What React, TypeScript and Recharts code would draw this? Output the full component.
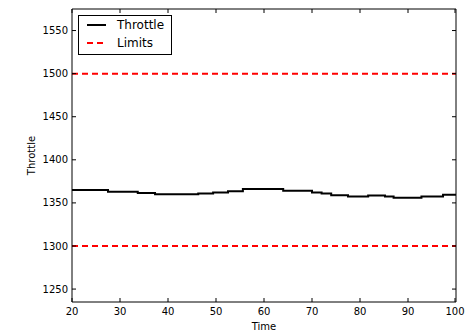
import React from 'react';
import { LineChart, Line, XAxis, YAxis, ReferenceLine } from 'recharts';

const timeValues = [20, 27.5, 33.7, 37.3, 46.3, 49.4, 52.5, 55.6, 64, 70, 72, 74, 77.5, 81.7, 85.2, 87, 92.8, 97.3, 100];
const throttleValues = [1365, 1363, 1361.5, 1360, 1361, 1362, 1363.5, 1366, 1364, 1362, 1361, 1359, 1357.5, 1358.5, 1357.5, 1356, 1357.5, 1359.5, 1359.5];
const limitValues = [1500, 1300];
const xTicks = [20, 30, 40, 50, 60, 70, 80, 90, 100];
const yTicks = [1250, 1300, 1350, 1400, 1450, 1500, 1550];
const legendLabels = ['Throttle', 'Limits'];

const data = timeValues.map((t, i) => ({ t, throttle: throttleValues[i] }));

const FONT = '"DejaVu Sans", sans-serif';

const BottomTick = (props: any) => {
  const { x, y, payload } = props;
  return (
    <g>
      <line x1={x} x2={x} y1={y} y2={y - 4} stroke="#000" strokeWidth={1} />
      <text x={x} y={y + 12.6} textAnchor="middle" fontSize={10} fontFamily={FONT} fill="#000">
        {payload.value}
      </text>
    </g>
  );
};

const TopTick = (props: any) => {
  const { x, y } = props;
  return <line x1={x} x2={x} y1={y} y2={y + 4} stroke="#000" strokeWidth={1} />;
};

const LeftTick = (props: any) => {
  const { x, y, payload } = props;
  return (
    <g>
      <line x1={x} x2={x + 4} y1={y} y2={y} stroke="#000" strokeWidth={1} />
      <text x={x - 4} y={y + 3.6} textAnchor="end" fontSize={10} fontFamily={FONT} fill="#000">
        {payload.value}
      </text>
    </g>
  );
};

const RightTick = (props: any) => {
  const { x, y } = props;
  return <line x1={x} x2={x - 4} y1={y} y2={y} stroke="#000" strokeWidth={1} />;
};

const LegendBox = () => (
  <svg width={94} height={40} style={{ position: 'absolute', left: 78, top: 15 }}>
    <rect x={0.5} y={0.5} width={93} height={39} fill="#fff" stroke="#000" strokeWidth={1} />
    <line x1={9} x2={28} y1={10} y2={10} stroke="#000" strokeWidth={2} />
    <text x={39} y={14.3} fontSize={12} fontFamily={FONT} fill="#000">{legendLabels[0]}</text>
    <line x1={9} x2={28} y1={28} y2={28} stroke="#ff0000" strokeWidth={2} strokeDasharray="6 4" />
    <text x={39} y={32.3} fontSize={12} fontFamily={FONT} fill="#000">{legendLabels[1]}</text>
  </svg>
);

export default function App() {
  return (
    <div style={{ position: 'absolute', left: 0, top: 0, width: 467, height: 332, background: '#fff' }}>
      <LineChart width={467} height={332} data={data} margin={{ top: 8, right: 10, bottom: 0, left: 10 }}>
        <XAxis
          xAxisId="bottom"
          dataKey="t"
          type="number"
          domain={[20, 100]}
          ticks={xTicks}
          allowDataOverflow
          height={30}
          tickSize={0}
          tickMargin={0}
          tickLine={false}
          tick={<BottomTick />}
          axisLine={{ stroke: '#000', strokeWidth: 1 }}
          label={(p: any) => {
            const vb = p.viewBox;
            return (
              <text x={vb.x + vb.width / 2} y={vb.y + 27.6} textAnchor="middle" fontSize={10} fontFamily={FONT} fill="#000">
                Time
              </text>
            );
          }}
        />
        <XAxis
          xAxisId="top"
          orientation="top"
          dataKey="t"
          type="number"
          domain={[20, 100]}
          ticks={xTicks}
          allowDataOverflow
          height={1}
          tickSize={0}
          tickMargin={0}
          tickLine={false}
          tick={<TopTick />}
          axisLine={{ stroke: '#000', strokeWidth: 1 }}
        />
        <YAxis
          yAxisId="left"
          type="number"
          domain={[1235, 1575]}
          ticks={yTicks}
          allowDataOverflow
          width={62}
          tickSize={0}
          tickMargin={0}
          tickLine={false}
          tick={<LeftTick />}
          axisLine={{ stroke: '#000', strokeWidth: 1 }}
          label={(p: any) => {
            const vb = p.viewBox;
            const cx = vb.x + 21;
            const cy = vb.y + vb.height / 2;
            return (
              <text x={cx} y={cy} transform={`rotate(-90 ${cx} ${cy})`} textAnchor="middle" dominantBaseline="central" fontSize={10} fontFamily={FONT} fill="#000">
                Throttle
              </text>
            );
          }}
        />
        <YAxis
          yAxisId="right"
          orientation="right"
          type="number"
          domain={[1235, 1575]}
          ticks={yTicks}
          allowDataOverflow
          width={1}
          tickSize={0}
          tickMargin={0}
          tickLine={false}
          tick={<RightTick />}
          axisLine={{ stroke: '#000', strokeWidth: 1 }}
        />
        {limitValues.map((v) => (
          <ReferenceLine
            key={v}
            xAxisId="bottom"
            yAxisId="left"
            y={v}
            stroke="#ff0000"
            strokeWidth={2}
            strokeDasharray="6 4"
          />
        ))}
        <Line
          xAxisId="bottom"
          yAxisId="left"
          type="stepAfter"
          dataKey="throttle"
          stroke="#000"
          strokeWidth={2}
          dot={false}
          activeDot={false}
          isAnimationActive={false}
        />
      </LineChart>
      <LegendBox />
    </div>
  );
}
